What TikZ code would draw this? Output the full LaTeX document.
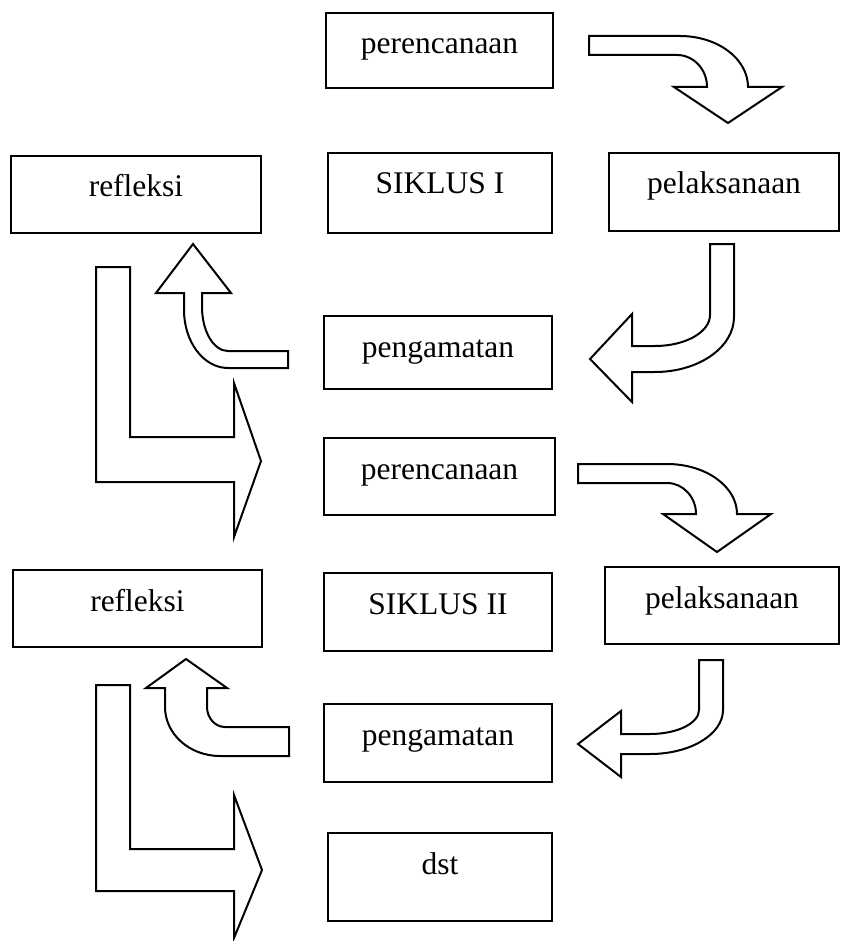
\documentclass[tikz,border=0pt]{standalone}
\usepackage{fontspec}
\setmainfont{Liberation Serif}
\newcommand\tf{\fontsize{15.75pt}{18pt}\selectfont}
\begin{document}
\begin{tikzpicture}[x=0.5pt,y=-0.5pt,
  box/.style={draw, line width=1pt, inner sep=0pt, outer sep=0pt, anchor=north west},
  lbl/.style={anchor=base, inner sep=0pt, font=\tf},
  blk/.style={draw, line width=1pt, fill=white, line join=miter}]
\useasboundingbox (0,0) rectangle (840,941);
% boxes
\node[box, minimum width=227*0.5pt, minimum height=75*0.5pt] (per1) at (326,13) {};
\node[lbl] (per1t) at ([yshift=-20.5pt]per1.north) {perencanaan};
\node[box, minimum width=250*0.5pt, minimum height=77*0.5pt] (ref1) at (11,156) {};
\node[lbl] (ref1t) at ([yshift=-20.5pt]ref1.north) {refleksi};
\node[box, minimum width=224*0.5pt, minimum height=80*0.5pt] (sik1) at (328,153) {};
\node[lbl] (sik1t) at ([yshift=-20.5pt]sik1.north) {SIKLUS I};
\node[box, minimum width=230*0.5pt, minimum height=78*0.5pt] (pel1) at (609,153) {};
\node[lbl] (pel1t) at ([yshift=-20.5pt]pel1.north) {pelaksanaan};
\node[box, minimum width=228*0.5pt, minimum height=73*0.5pt] (pen1) at (324,316) {};
\node[lbl] (pen1t) at ([yshift=-20.5pt]pen1.north) {pengamatan};
\node[box, minimum width=231*0.5pt, minimum height=77*0.5pt] (per2) at (324,438) {};
\node[lbl] (per2t) at ([yshift=-20.5pt]per2.north) {perencanaan};
\node[box, minimum width=249*0.5pt, minimum height=77*0.5pt] (ref2) at (13,570) {};
\node[lbl] (ref2t) at ([yshift=-20.5pt]ref2.north) {refleksi};
\node[box, minimum width=228*0.5pt, minimum height=78*0.5pt] (sik2) at (324,573) {};
\node[lbl] (sik2t) at ([yshift=-20.5pt]sik2.north) {SIKLUS II};
\node[box, minimum width=234*0.5pt, minimum height=77*0.5pt] (pel2) at (605,567) {};
\node[lbl] (pel2t) at ([yshift=-20.5pt]pel2.north) {pelaksanaan};
\node[box, minimum width=228*0.5pt, minimum height=78*0.5pt] (pen2) at (324,704) {};
\node[lbl] (pen2t) at ([yshift=-20.5pt]pen2.north) {pengamatan};
\node[box, minimum width=224*0.5pt, minimum height=88*0.5pt] (dst) at (328,833) {};
\node[lbl] (dstt) at ([yshift=-20.5pt]dst.north) {dst};
% arrow 1 (perencanaan -> pelaksanaan, cycle I)
\draw[blk] (589,36) -- (680,36) .. controls (717.6,36) and (748,58.8) .. (748,87)
  -- (782,87) -- (728,123) -- (674,87) -- (707,87)
  .. controls (707,69.3) and (693.6,55) .. (677,55) -- (589,55) -- cycle;
% arrow 2 (pelaksanaan -> pengamatan, cycle I)
\draw[blk] (710,244) -- (734,244) -- (734,317) .. controls (734,347.4) and (698.6,372) .. (655,372)
  -- (632,372) -- (632,402) -- (590,359) -- (632,314) -- (632,346) -- (655,346)
  .. controls (685.4,346) and (710,332.1) .. (710,315) -- cycle;
% arrow 3 (pengamatan -> refleksi, cycle I)
\draw[blk] (193,244) -- (231,293) -- (202,293) -- (202,307) .. controls (202,331.3) and (213.6,351) .. (228,351)
  -- (288,351) -- (288,368) -- (228,368) .. controls (203.7,368) and (184,342) .. (184,310)
  -- (184,293) -- (156,293) -- cycle;
% L arrow 1 (refleksi -> perencanaan)
\draw[blk] (96,267) -- (130,267) -- (130,437) -- (234,437) -- (234,383) -- (261,461)
  -- (234,537) -- (234,482) -- (96,482) -- cycle;
% arrow 4 (perencanaan -> pelaksanaan, cycle II)
\draw[blk] (578,464) -- (667,464) .. controls (705.7,464) and (737,486.4) .. (737,514)
  -- (771,514) -- (717,552) -- (663,514) -- (696,514)
  .. controls (696,496.9) and (683,483) .. (667,483) -- (578,483) -- cycle;
% arrow 5 (pelaksanaan -> pengamatan, cycle II)
\draw[blk] (699,660) -- (723,660) -- (723,710) .. controls (723,734.3) and (690.3,754) .. (650,754)
  -- (621,754) -- (621,777) -- (578,744) -- (621,711) -- (621,734) -- (650,734)
  .. controls (677.1,734) and (699,723.3) .. (699,710) -- cycle;
% arrow 6 (pengamatan -> refleksi, cycle II)
\draw[blk] (186,659) -- (227,688) -- (207,688) -- (207,707) .. controls (207,718) and (215.1,727) .. (225,727)
  -- (289,727) -- (289,756) -- (220,756) .. controls (189.6,756) and (165,734.1) .. (165,707)
  -- (165,688) -- (146,688) -- cycle;
% L arrow 2 (refleksi -> dst)
\draw[blk] (96,685) -- (130,685) -- (130,849) -- (234,849) -- (234,795) -- (262,870)
  -- (234,938) -- (234,891) -- (96,891) -- cycle;
\end{tikzpicture}
\end{document}
